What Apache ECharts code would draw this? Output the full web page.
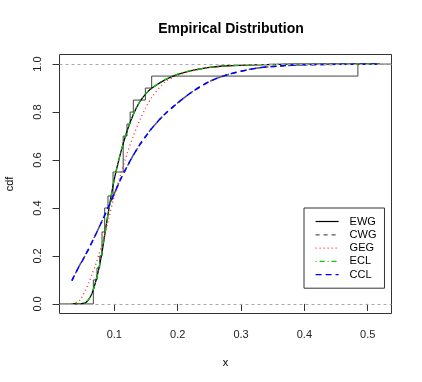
<!DOCTYPE html>
<html>
<head>
<meta charset="utf-8">
<script src="https://cdn.jsdelivr.net/npm/echarts@6/dist/echarts.min.js"></script>
<style>
html,body{margin:0;padding:0;background:#fff;}
#chart{width:422px;height:382px;}
</style>
</head>
<body>
<div id="chart"></div>
<script>
// Axis settings
var xMin = 0.0135, xMax = 0.5375;
var yMin = -0.04, yMax = 1.04;
var xTicks = [0.1, 0.2, 0.3, 0.4, 0.5];
var yTicks = [0.0, 0.2, 0.4, 0.6, 0.8, 1.0];

// Empirical CDF jump points
var ecdfX = [0.0669, 0.0727, 0.077, 0.0806, 0.0848, 0.090, 0.098, 0.114, 0.120, 0.125, 0.130, 0.149, 0.159, 0.4845];
var ecdfY = [0.10, 0.15, 0.20, 0.30, 0.40, 0.45, 0.55, 0.70, 0.75, 0.80, 0.85, 0.90, 0.95, 1.00];

// Fitted CDF curves (x grid + values)
var curveX = [0.033, 0.046, 0.05, 0.055, 0.06, 0.065, 0.07, 0.075, 0.08, 0.085, 0.09, 0.10, 0.11, 0.12, 0.13, 0.14, 0.15, 0.16, 0.18, 0.20, 0.22, 0.25, 0.28, 0.32, 0.36, 0.40, 0.45, 0.5185];
var ewgY = [0.000, 0.001, 0.002, 0.006, 0.020, 0.045, 0.087, 0.140, 0.207, 0.290, 0.373, 0.520, 0.630, 0.720, 0.790, 0.842, 0.877, 0.901, 0.934, 0.957, 0.972, 0.986, 0.993, 0.997, 0.999, 1.000, 1.000, 1.000];
var cwgY = [0.097, 0.165, 0.182, 0.207, 0.232, 0.259, 0.286, 0.314, 0.342, 0.371, 0.400, 0.460, 0.520, 0.572, 0.620, 0.663, 0.700, 0.735, 0.792, 0.838, 0.879, 0.927, 0.957, 0.981, 0.992, 0.997, 0.999, 1.000];
var gegY = [0.000, 0.015, 0.035, 0.060, 0.090, 0.125, 0.160, 0.200, 0.245, 0.290, 0.343, 0.450, 0.540, 0.625, 0.699, 0.765, 0.820, 0.865, 0.925, 0.953, 0.970, 0.985, 0.993, 0.997, 0.999, 1.000, 1.000, 1.000];
var eclY = [0.000, 0.001, 0.002, 0.007, 0.021, 0.046, 0.088, 0.141, 0.207, 0.290, 0.372, 0.519, 0.630, 0.721, 0.791, 0.843, 0.878, 0.902, 0.935, 0.958, 0.973, 0.986, 0.993, 0.997, 0.999, 1.000, 1.000, 1.000];
var cclY = [0.097, 0.165, 0.182, 0.207, 0.232, 0.259, 0.286, 0.314, 0.342, 0.371, 0.400, 0.460, 0.520, 0.572, 0.620, 0.663, 0.700, 0.735, 0.792, 0.838, 0.879, 0.927, 0.957, 0.981, 0.992, 0.997, 0.999, 1.000];

var legendNames = ['EWG', 'CWG', 'GEG', 'ECL', 'CCL'];

function pairs(xs, ys) { return xs.map(function (x, i) { return [x, ys[i]]; }); }

var ecdfData = [[xMin, 0]].concat(pairs(ecdfX, ecdfY)).concat([[xMax, 1]]);

var FONT = 'Liberation Sans, Arial, Helvetica, sans-serif';
var chart = echarts.init(document.getElementById('chart'), null, {renderer: 'canvas'});

function curve(name, ys, color, type, width) {
  return {
    name: name, type: 'line', data: pairs(curveX, ys), smooth: 0.3,
    symbol: 'none', silent: true, animation: false,
    lineStyle: {color: color, type: type, width: width},
    itemStyle: {color: color}
  };
}

chart.setOption({
  animation: false,
  backgroundColor: '#fff',
  title: {
    text: 'Empirical Distribution', left: 226, top: 17, textAlign: 'center',
    textStyle: {fontFamily: FONT, fontSize: 14, fontWeight: 'bold', color: '#000'}
  },
  grid: {left: 59.5, top: 54.5, width: 332, height: 259, show: true, borderColor: '#333', borderWidth: 1,
    backgroundColor: 'transparent', containLabel: false, outerBoundsMode: 'none'},
  legend: {
    data: legendNames, orient: 'vertical', left: 304, top: 208,
    backgroundColor: '#fff', borderColor: '#333', borderWidth: 1, borderRadius: 0,
    padding: [7, 8, 7, 11], itemWidth: 23, itemHeight: 13, itemGap: 0.3,
    itemStyle: {opacity: 0},
    lineStyle: {width: 1.2},
    textStyle: {fontFamily: FONT, fontSize: 11, color: '#000', lineHeight: 13, padding: [0, 0, 0, 6]},
    selectedMode: false
  },
  xAxis: {
    type: 'value', min: xMin, max: xMax,
    name: 'x', nameLocation: 'middle', nameGap: 44,
    nameTextStyle: {fontFamily: FONT, fontSize: 11, color: '#000'},
    axisLine: {show: false},
    axisTick: {show: true, length: 7, customValues: xTicks, lineStyle: {color: '#333'}},
    axisLabel: {customValues: xTicks, margin: 16, fontFamily: FONT, fontSize: 11, color: '#222',
      formatter: function (v) { return v.toFixed(1); }},
    splitLine: {show: false}
  },
  yAxis: {
    type: 'value', min: yMin, max: yMax,
    name: 'cdf', nameLocation: 'middle', nameGap: 44, nameRotate: 90,
    nameTextStyle: {fontFamily: FONT, fontSize: 11, color: '#000'},
    axisLine: {show: false},
    axisTick: {show: true, length: 7, customValues: yTicks, lineStyle: {color: '#333'}},
    axisLabel: {customValues: yTicks, margin: 16, rotate: 90, fontFamily: FONT, fontSize: 11, color: '#222',
      formatter: function (v) { return v.toFixed(1); }},
    splitLine: {show: false}
  },
  series: [
    {
      name: 'ecdf', type: 'line', step: 'end', data: ecdfData, symbol: 'none', silent: true,
      lineStyle: {color: '#444', width: 1},
      markLine: {
        silent: true, symbol: 'none', label: {show: false},
        lineStyle: {color: '#aaa', type: [3, 3], width: 1},
        data: [{yAxis: 0}, {yAxis: 1}]
      }
    },
    curve('EWG', ewgY, '#000', 'solid', 1.3),
    curve('CWG', cwgY, '#555', [4, 4], 1.5),
    curve('GEG', gegY, '#ff2020', [1, 3], 1.3),
    curve('ECL', eclY, '#10c010', [1, 3, 5, 3], 1.3),
    curve('CCL', cclY, '#0000ff', [6, 4], 1.5)
  ]
});
</script>
</body>
</html>
